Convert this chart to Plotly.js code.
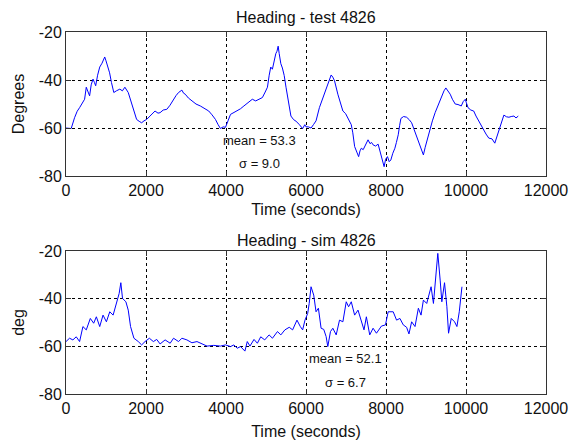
<!DOCTYPE html>
<html>
<head>
<meta charset="utf-8">
<script src="https://cdn.plot.ly/plotly-3.0.1.min.js"></script>
<style>html,body{margin:0;padding:0;background:#fff;}#chart{width:580px;height:442px;}</style>
</head>
<body>
<div id="chart"></div>
<script>
const testTime = [0,130,214,280,340,400,465,507,550,590,630,675,710,742,790,843,900,940,968,1000,1052,1090,1136,1195,1260,1346,1410,1472,1556,1640,1700,1765,1830,1891,1950,2017,2100,2226,2300,2352,2430,2520,2600,2688,2750,2814,2897,2940,2981,3060,3148,3250,3358,3460,3568,3650,3736,3800,3861,3930,3987,4050,4113,4200,4280,4360,4448,4550,4658,4742,4820,4910,4980,5036,5080,5119,5160,5203,5245,5275,5304,5330,5371,5410,5455,5500,5539,5580,5623,5690,5748,5830,5916,5970,6000,6060,6126,6190,6251,6335,6400,6461,6545,6590,6629,6670,6713,6796,6860,6922,6990,7048,7132,7170,7216,7270,7316,7350,7383,7430,7467,7510,7551,7600,7640,7677,7740,7803,7870,7910,7953,7990,8037,8080,8121,8170,8222,8260,8306,8340,8373,8440,8515,8580,8641,8700,8767,8810,8851,8900,8935,8980,9018,9060,9102,9160,9228,9310,9396,9450,9496,9550,9605,9660,9731,9800,9882,9930,9983,10010,10050,10120,10192,10250,10318,10380,10444,10500,10570,10650,10720,10770,10821,10880,10947,11010,11073,11130,11199,11250,11307];
const testHeading = [-60,-60.2,-55.7,-53,-51.5,-50,-48,-43,-45,-46.6,-42,-39.6,-41,-42.4,-38,-34.6,-33,-31,-30.4,-32,-34.6,-37,-41,-45.2,-44.5,-43.8,-44.5,-43,-45.2,-50,-53,-56.4,-57.2,-57.8,-57,-56.4,-55,-52.9,-53.8,-53.6,-52.5,-52.2,-50.5,-48,-46.5,-45.2,-44.2,-45.5,-45.9,-47.5,-48.7,-50,-50.8,-51.8,-52.9,-54.5,-56.4,-58.5,-60.2,-59.5,-59.7,-57,-54.3,-53.5,-52.9,-52,-50.8,-49.5,-48,-48.7,-48,-47.3,-45,-43,-38,-34.6,-35.5,-31.8,-29,-28,-25.9,-29,-33.2,-35,-38.1,-43,-47.3,-51,-55,-56.5,-57.1,-58.5,-60.2,-58.6,-59.5,-59.5,-60,-58.5,-57,-51.5,-48.5,-45.9,-41.7,-39.5,-37.9,-38.8,-40.3,-45.9,-49.5,-52.9,-54,-55.7,-58.6,-62,-67.7,-70,-71.9,-69.5,-68.4,-69,-67.7,-66,-64.9,-66.5,-66,-67,-67.5,-66.7,-71.2,-73,-76.1,-73,-71.9,-74,-73.3,-70.5,-68.4,-66,-62.8,-59,-56,-55.2,-55.5,-56.5,-57.8,-60.5,-63.5,-65,-67,-69.5,-71.2,-68,-65.6,-62.5,-60,-57,-53.6,-50,-46.6,-44.5,-43.3,-44.5,-45.9,-48,-50,-50.2,-50.8,-49,-48,-49.5,-51.5,-52.5,-52.9,-55,-57.1,-59,-60.7,-62.5,-64.2,-64.5,-66.3,-63.5,-60.7,-57.5,-54.6,-55.3,-55.5,-55.2,-55,-55.8,-55];

const simTime = [0,88,172,256,340,423,507,608,692,759,843,926,1010,1094,1178,1262,1329,1371,1413,1497,1556,1614,1698,1807,1891,1975,2084,2184,2268,2352,2478,2604,2688,2814,2897,3023,3148,3274,3400,3526,3694,3861,3987,4113,4197,4280,4364,4473,4532,4599,4700,4784,4868,4968,5077,5161,5287,5371,5472,5581,5665,5774,5858,5916,5975,6042,6080,6126,6193,6251,6310,6377,6444,6503,6545,6612,6671,6755,6838,6922,7006,7065,7132,7216,7300,7383,7450,7509,7593,7677,7761,7886,7987,8054,8180,8264,8348,8432,8515,8574,8641,8725,8809,8876,8935,9018,9127,9186,9245,9295,9354,9396,9463,9522,9564,9631,9714,9773,9832,9899];
const simHeading = [-58,-56.6,-57.3,-56,-58,-51.7,-53.1,-48.3,-50.3,-47.6,-51.7,-46.9,-49.7,-45.5,-46.9,-42,-37.8,-33.3,-39.9,-41.3,-44.8,-51.7,-56.6,-58,-59.4,-58,-56.6,-58,-57.1,-59,-57.3,-58.7,-56.6,-58,-56.6,-57.3,-58.5,-58,-59,-59.9,-59.6,-59.9,-59.4,-60.1,-59.4,-60.8,-60.1,-62,-58,-59.9,-57.1,-58.7,-56,-57.3,-55.2,-56.6,-53.8,-55.2,-53.1,-52,-53.1,-49,-51.7,-53.1,-49,-46.2,-42,-35,-38.5,-45.5,-44,-52.4,-52.9,-55.9,-60.1,-53.8,-52.4,-55.2,-49,-49.7,-41.3,-43.4,-41.3,-46.9,-44.8,-49,-53.1,-47.6,-55.2,-52.4,-54.5,-51.5,-51,-45.5,-45.5,-49,-48.3,-51,-52,-54.8,-49.7,-51.7,-44,-46.9,-40.6,-42,-35,-42,-30.8,-21,-32.2,-41.3,-33.3,-43.4,-54.5,-48.3,-49.7,-51.7,-45.5,-35];

const xTicks = [0,2000,4000,6000,8000,10000,12000];
const yTicks = [-80,-60,-40,-20];
const titles = ["Heading - test 4826", "Heading - sim 4826"];
const yLabels = ["Degrees", "deg"];
const xLabel = "Time (seconds)";
const statsText = [["mean = 53.3", "\u03c3 = 9.0"], ["mean = 52.1", "\u03c3 = 6.7"]];
const statsPos = [[4843, -65.1, -74.9], [6981, -65.3, -75]];

const FONT = "Liberation Sans, Arial, sans-serif";
const lineStyle = {color: "#0000ff", width: 1};

function xAxis(anchor, standoff) {
  return {
    anchor: anchor, range: [0, 12000], tickvals: xTicks, ticktext: xTicks.map(String),
    ticks: "inside", ticklen: 5, tickcolor: "#333", showline: true, linecolor: "#333", linewidth: 1,
    mirror: "ticks", showgrid: true, gridcolor: "#000", griddash: "3px,3px", gridwidth: 1,
    zeroline: false, tickfont: {family: FONT, size: 16, color: "#111"},
    title: {text: xLabel, font: {family: FONT, size: 16, color: "#111"}, standoff: standoff}
  };
}
function yAxis(anchor, domain, label) {
  return {
    anchor: anchor, domain: domain, range: [-80, -20], tickvals: yTicks, ticktext: yTicks.map(String),
    ticks: "inside", ticklen: 5, tickcolor: "#333", showline: true, linecolor: "#333", linewidth: 1,
    mirror: "ticks", showgrid: true, gridcolor: "#000", griddash: "3px,3px", gridwidth: 1,
    zeroline: false, tickfont: {family: FONT, size: 16, color: "#111"},
    title: {text: label, font: {family: FONT, size: 16, color: "#111"}, standoff: 10}
  };
}

const data = [
  {x: testTime, y: testHeading, xaxis: "x", yaxis: "y", type: "scatter", mode: "lines", line: lineStyle, hoverinfo: "skip"},
  {x: simTime, y: simHeading, xaxis: "x2", yaxis: "y2", type: "scatter", mode: "lines", line: lineStyle, hoverinfo: "skip"}
];

const annotations = [];
[0, 1].forEach(i => {
  const xr = i === 0 ? "x" : "x2", yr = i === 0 ? "y" : "y2";
  annotations.push({xref: xr, yref: yr, x: statsPos[i][0], y: statsPos[i][1], text: statsText[i][0], showarrow: false, font: {family: FONT, size: 13, color: "#111"}});
  annotations.push({xref: xr, yref: yr, x: statsPos[i][0], y: statsPos[i][2], text: statsText[i][1], showarrow: false, font: {family: FONT, size: 13, color: "#111"}});
});
annotations.push({xref: "paper", yref: "paper", x: 0.5, y: 1, yanchor: "bottom", yshift: 4, text: titles[0], showarrow: false, font: {family: FONT, size: 16, color: "#111"}});
annotations.push({xref: "paper", yref: "paper", x: 0.5, y: 0.395, yanchor: "bottom", yshift: 0, text: titles[1], showarrow: false, font: {family: FONT, size: 16, color: "#111"}});

const layout = {
  width: 580, height: 442,
  margin: {l: 66, r: 34, t: 32, b: 48},
  paper_bgcolor: "#fff", plot_bgcolor: "#fff",
  showlegend: false,
  xaxis: xAxis("y", 5),
  yaxis: yAxis("x", [0.602, 1], yLabels[0]),
  xaxis2: xAxis("y2", 9),
  yaxis2: yAxis("x2", [0, 0.395], yLabels[1]),
  annotations: annotations
};

Plotly.newPlot("chart", data, layout, {staticPlot: true, displayModeBar: false});
</script>
</body>
</html>
